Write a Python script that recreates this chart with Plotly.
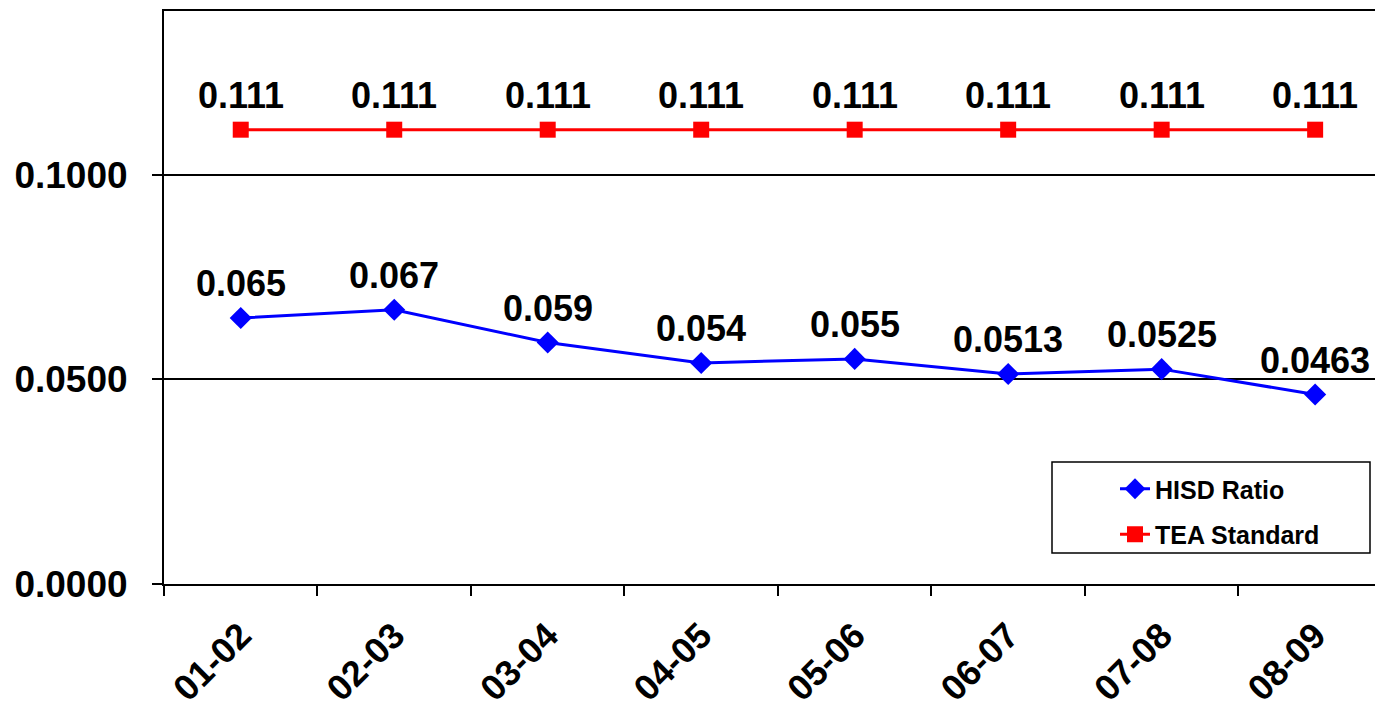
import plotly.graph_objects as go

categories = ["01-02", "02-03", "03-04", "04-05", "05-06", "06-07", "07-08", "08-09"]
hisd_ratio = [0.065, 0.067, 0.059, 0.054, 0.055, 0.0513, 0.0525, 0.0463]
hisd_labels = ["0.065", "0.067", "0.059", "0.054", "0.055", "0.0513", "0.0525", "0.0463"]
tea_standard = [0.111] * 8
tea_labels = ["0.111"] * 8

FONT = "Arial, 'Liberation Sans', sans-serif"
PLOT_L, PLOT_R, PLOT_T, PLOT_B = 164, 1375, 11, 584

def px_x(x):
    return (x - PLOT_L) / (PLOT_R - PLOT_L)

def px_y(y):
    return (PLOT_B - y) / (PLOT_B - PLOT_T)

fig = go.Figure()
fig.add_trace(go.Scatter(
    x=categories, y=hisd_ratio, name="HISD Ratio", mode="lines+markers",
    legendgroup="a",
    line=dict(color="#0000FF", width=3),
    marker=dict(symbol="diamond", size=17, color="#0000FF"),
))
fig.add_trace(go.Scatter(
    x=categories, y=tea_standard, name="TEA Standard", mode="lines+markers",
    legendgroup="b",
    line=dict(color="#FF0000", width=3),
    marker=dict(symbol="square", size=16, color="#FF0000"),
))

annotations = []
for c, v, t in zip(categories, hisd_ratio, hisd_labels):
    annotations.append(dict(x=c, y=v, text="<b>%s</b>" % t, showarrow=False,
                            yanchor="bottom", xanchor="center", yshift=12,
                            font=dict(family=FONT, size=36, color="black")))
for c, v, t in zip(categories, tea_standard, tea_labels):
    annotations.append(dict(x=c, y=v, text="<b>%s</b>" % t, showarrow=False,
                            yanchor="bottom", xanchor="center", yshift=12,
                            font=dict(family=FONT, size=36, color="black")))

fig.update_layout(
    width=1375, height=705,
    margin=dict(l=164, r=0, t=11, b=121, autoexpand=False),
    paper_bgcolor="white", plot_bgcolor="white",
    font=dict(family=FONT, color="black"),
    annotations=annotations,
    shapes=[dict(type="rect", xref="paper", yref="paper",
                 x0=px_x(1052), x1=px_x(1370), y0=px_y(553), y1=px_y(462),
                 line=dict(color="black", width=1.5), fillcolor="white", layer="above")],
    showlegend=True,
    legend=dict(
        x=px_x(1115), y=px_y(466),
        xanchor="left", yanchor="top",
        bgcolor="rgba(0,0,0,0)", borderwidth=0,
        traceorder="grouped", tracegroupgap=10,
        font=dict(family=FONT, size=25, color="black", weight="bold"),
    ),
    xaxis=dict(
        type="category", range=[-0.5, 7.39], automargin=False,
        showline=True, linecolor="black", linewidth=2, mirror=True,
        ticks="outside", tickson="boundaries", ticklen=10, tickwidth=2, tickcolor="black",
        tickangle=-45, showgrid=False, ticklabelstandoff=14,
        tickfont=dict(family=FONT, size=36, color="black", weight="bold"),
    ),
    yaxis=dict(
        range=[0, 0.14], dtick=0.05, tickformat=".4f", automargin=False,
        showline=True, linecolor="black", linewidth=2,
        ticks="outside", ticklen=10, tickwidth=1.5, tickcolor="black",
        showgrid=True, gridcolor="black", gridwidth=1.5, zeroline=False,
        ticklabelstandoff=17,
        tickfont=dict(family=FONT, size=37, color="black", weight="bold"),
    ),
)

fig.write_html("out.html")
